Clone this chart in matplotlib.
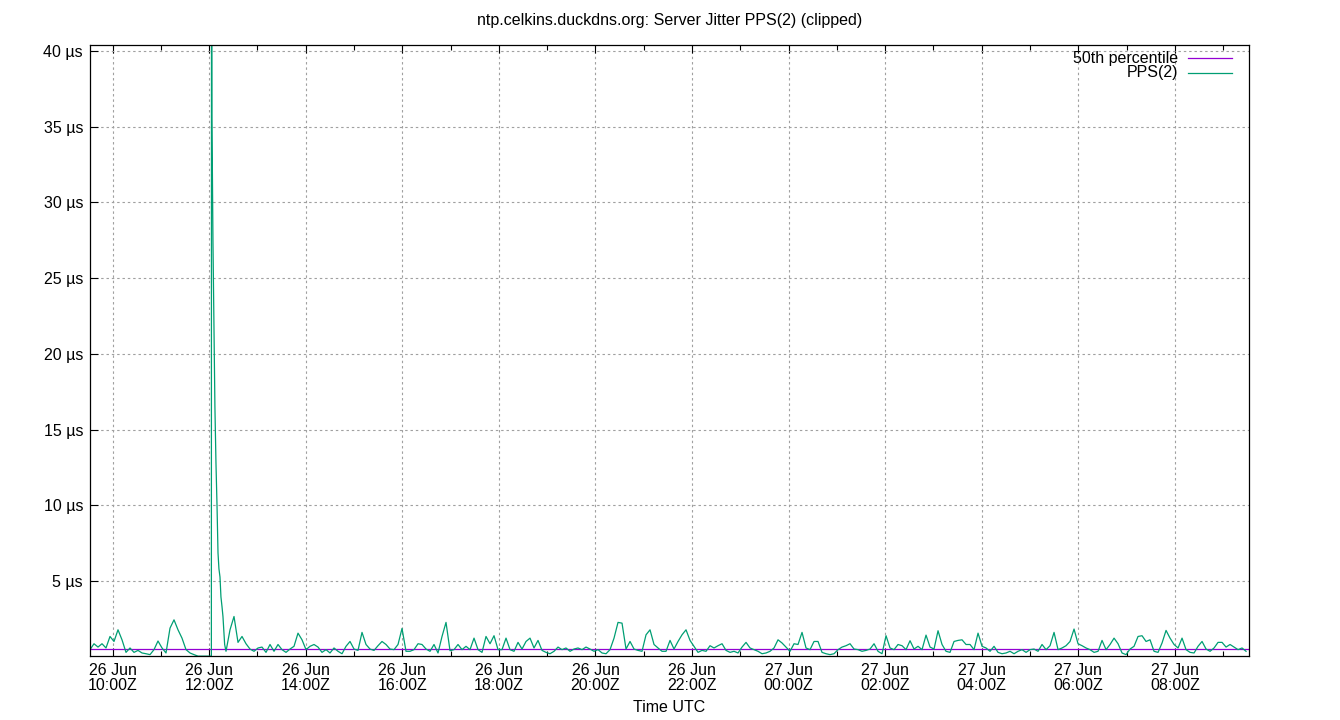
import numpy as np
import matplotlib
matplotlib.use("Agg")
import matplotlib.pyplot as plt
import matplotlib.dates as mdates
from matplotlib.lines import Line2D
from matplotlib.ticker import FuncFormatter, MultipleLocator
from datetime import datetime, timedelta

plt.rcParams['font.family'] = ['Liberation Sans', 'DejaVu Sans']

# window: 24 h starting 26 Jun 09:32Z, one sample roughly every 5 minutes
start = datetime(2024, 6, 26, 9, 32)
step_min = 4.97

jitter_us = [
    0.46, 0.85, 0.63, 0.85, 0.57, 1.33, 1.0, 1.77, 1.11, 0.28,
    0.57, 0.28, 0.41, 0.24, 0.19, 0.13, 0.46, 1.03, 0.57, 0.24,
    1.88, 2.43, 1.77, 1.22, 0.46, 0.24, 0.13, 0.03, 0.03, 0.03,
    0.03, 21.3, 6.85, 3.3, 0.35, 1.77, 2.65, 0.94, 1.33, 0.85,
    0.5, 0.35, 0.57, 0.63, 0.28, 0.8, 0.35, 0.8, 0.46, 0.28,
    0.5, 0.68, 1.55, 1.11, 0.46, 0.68, 0.8, 0.63, 0.28, 0.46,
    0.24, 0.57, 0.35, 0.19, 0.68, 1.0, 0.5, 0.41, 1.6, 0.8,
    0.5, 0.41, 0.72, 1.0, 0.8, 0.5, 0.46, 0.8, 1.86, 0.35,
    0.35, 0.46, 0.85, 0.8, 0.5, 0.35, 0.8, 0.24, 1.33, 2.26,
    0.39, 0.46, 0.8, 0.46, 0.68, 0.46, 1.22, 0.46, 0.28, 1.33,
    0.85, 1.38, 0.46, 0.46, 1.22, 0.46, 0.35, 0.94, 0.5, 1.0,
    1.22, 0.57, 1.07, 0.41, 0.28, 0.19, 0.35, 0.63, 0.46, 0.57,
    0.35, 0.5, 0.57, 0.46, 0.63, 0.5, 0.35, 0.46, 0.24, 0.19,
    0.46, 1.22, 2.26, 2.21, 0.5, 1.0, 0.5, 0.41, 0.35, 1.44,
    1.77, 0.8, 0.57, 0.35, 0.35, 1.07, 0.5, 1.0, 1.44, 1.77,
    1.07, 0.68, 0.28, 0.41, 0.35, 0.72, 0.57, 0.72, 0.85, 0.41,
    0.28, 0.35, 0.24, 0.63, 0.94, 0.57, 0.46, 0.35, 0.19, 0.24,
    0.35, 0.57, 1.11, 0.9, 0.63, 0.35, 0.85, 0.8, 1.6, 0.57,
    0.46, 1.0, 1.0, 0.28, 0.19, 0.13, 0.19, 0.46, 0.63, 0.72,
    0.85, 0.5, 0.46, 0.35, 0.41, 0.5, 0.85, 0.35, 0.19, 1.38,
    0.57, 0.46, 0.8, 0.72, 0.46, 1.05, 0.5, 0.68, 0.46, 1.42,
    0.63, 0.5, 1.71, 0.8, 0.35, 0.28, 1.0, 1.07, 1.11, 0.8,
    0.8, 0.46, 1.55, 0.68, 0.57, 0.35, 0.68, 0.28, 0.19, 0.24,
    0.35, 0.19, 0.35, 0.46, 0.28, 0.46, 0.5, 0.35, 0.8, 0.46,
    0.72, 1.6, 0.46, 0.57, 0.72, 1.0, 1.82, 0.85, 0.72, 0.57,
    0.46, 0.28, 0.35, 1.07, 0.46, 0.8, 1.22, 0.85, 0.24, 0.13,
    0.5, 0.68, 1.33, 1.38, 1.0, 1.11, 0.35, 0.28, 0.9, 1.73,
    1.22, 0.8, 0.57, 1.22, 0.46, 0.28, 0.24, 0.68, 1.0, 0.5,
    0.35, 0.57, 0.94, 0.94, 0.63, 0.8, 0.63, 0.46, 0.57, 0.35,
]

# extra samples on the 12:00Z spike (minutes after start)
spike_min = [150.8, 151.0, 151.5, 152.8, 155.2, 156.5, 157.8, 160.2, 161.5, 162.7, 165.2, 167.3]
spike_us = [0.03, 60.0, 35.6, 27.3, 16.5, 12.8, 10.0, 5.8, 5.26, 3.94, 2.65, 0.8]

median_us = 0.5

series_names = ['50th percentile', 'PPS(2)']
series_colors = ['#9400d3', '#009e73']

minutes = np.concatenate([np.arange(len(jitter_us)) * step_min, spike_min])
vals = np.concatenate([jitter_us, spike_us])
order = np.argsort(minutes)
times = [start + timedelta(minutes=float(m)) for m in minutes[order]]
vals = vals[order]
end = start + timedelta(hours=24)

fig = plt.figure(figsize=(13.4, 7.2), dpi=100)
ax = fig.add_axes([90 / 1340, 64 / 720, 1159 / 1340, 611 / 720])

ax.plot([start, end], [median_us, median_us], color=series_colors[0], lw=0.9)
ax.plot(times, vals, color=series_colors[1], lw=0.9)

ax.set_xlim(start, end)
ax.set_ylim(0.04, 40.4)

ax.xaxis.set_major_locator(mdates.HourLocator(byhour=range(0, 24, 2)))
ax.xaxis.set_minor_locator(mdates.HourLocator())
ax.xaxis.set_major_formatter(mdates.DateFormatter('%d %b\n%H:%MZ'))
ax.yaxis.set_major_locator(MultipleLocator(5))
ax.yaxis.set_major_formatter(FuncFormatter(lambda v, p: f'{v:g} µs' if v > 0 else ''))

ax.set_axisbelow(True)
ax.grid(True, which='major', color='#a0a0a0', linestyle=(0, (2.2, 2.6)), lw=0.8)
ax.tick_params(which='both', direction='in', top=True, right=False, labelsize=11.5, width=0.8)
ax.tick_params(which='major', length=6)
ax.tick_params(which='minor', length=3.5)
ax.tick_params(axis='y', pad=5)
ax.tick_params(axis='x', pad=5)
for lbl in ax.get_xticklabels():
    lbl.set_linespacing(1.0)
for s in ax.spines.values():
    s.set_linewidth(0.9)

ax.set_xlabel('Time UTC', fontsize=11.5, labelpad=5)
fig.text(0.5, 1 - 20 / 720, 'ntp.celkins.duckdns.org: Server Jitter PPS(2) (clipped)',
         ha='center', va='center', fontsize=11.5)

# gnuplot-style key: right-aligned text followed by a line sample
for k, (name, col) in enumerate(zip(series_names, series_colors)):
    yk = 1 - (58 + 15 * k) / 720
    fig.text(1178 / 1340, yk, name, ha='right', va='center', fontsize=11.5)
    fig.add_artist(Line2D([1188 / 1340, 1232 / 1340], [yk, yk], color=col, lw=0.9))

fig.savefig('out.png', dpi=100)
